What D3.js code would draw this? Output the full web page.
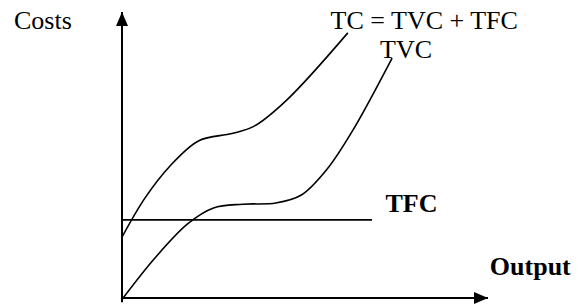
<!DOCTYPE html>
<html>
<head>
<meta charset="utf-8">
<script src="https://cdn.jsdelivr.net/npm/d3@7"></script>
<style>
    body { margin: 0; background: #fff; }
    svg { display: block; }
    text { font-family: "Liberation Serif", "Times New Roman", serif; font-size: 26px; fill: #000; }
    .bold { font-weight: bold; }
    .curve { fill: none; stroke: #000; stroke-width: 1.6; }
    .axis-line { fill: none; stroke: #000; stroke-width: 2; }
</style>
</head>
<body>
<svg id="chart"></svg>
<script>
const WIDTH = 579;
const HEIGHT = 305;

// curve points in output / cost units
const tcOutput  = [0, 0.63, 1.3, 2.1, 3.0, 3.6, 4.5, 6.17];
const tcCost    = [2.13, 3.50, 4.6, 5.5, 5.75, 6.0, 6.92, 9.27];

const tvcOutput = [0, 0.9, 1.8, 2.5, 3.3, 4.2, 4.9, 5.6, 6.3, 7.38];
const tvcCost   = [-0.05, 1.4, 2.6, 3.15, 3.28, 3.32, 3.6, 4.5, 5.85, 8.39];

const tfcCost = 2.73;
const tfcEnd = 6.83;

const xMax = 10;
const yMax = 10;

const labels = [
    { text: "Costs", x: -2.95, y: 9.4, bold: false },
    { text: "TC = TVC + TFC", x: 5.7, y: 9.4, bold: false },
    { text: "TVC", x: 7.05, y: 8.4, bold: false },
    { text: "TFC", x: 7.2, y: 3.0, bold: true },
    { text: "Output", x: 10.05, y: 0.8, bold: true }
];

const x = d3.scaleLinear().domain([0, xMax]).range([122, 488]);
const y = d3.scaleLinear().domain([0, yMax]).range([298, 12]);

const svg = d3.select("#chart")
    .attr("width", WIDTH)
    .attr("height", HEIGHT);

// arrow heads
const defs = svg.append("defs");
defs.append("marker")
    .attr("id", "arrow")
    .attr("markerUnits", "userSpaceOnUse")
    .attr("viewBox", "0 0 14 12")
    .attr("refX", 14)
    .attr("refY", 6)
    .attr("markerWidth", 14)
    .attr("markerHeight", 12)
    .attr("orient", "auto")
    .append("path")
        .attr("d", "M0,0L14,6L0,12Z")
        .attr("fill", "#000");

// axes
svg.append("line")
    .attr("class", "axis-line")
    .attr("x1", x(0)).attr("y1", y(-0.15))
    .attr("x2", x(0)).attr("y2", y(yMax))
    .attr("marker-end", "url(#arrow)");

svg.append("line")
    .attr("class", "axis-line")
    .attr("x1", x(0)).attr("y1", y(0))
    .attr("x2", x(xMax)).attr("y2", y(0))
    .attr("marker-end", "url(#arrow)");

const line = d3.line()
    .x((d) => x(d[0]))
    .y((d) => y(d[1]))
    .curve(d3.curveCatmullRom.alpha(0.5));

svg.append("path")
    .attr("class", "curve")
    .attr("d", line(d3.zip(tcOutput, tcCost)));

svg.append("path")
    .attr("class", "curve")
    .attr("d", line(d3.zip(tvcOutput, tvcCost)));

svg.append("line")
    .attr("class", "curve")
    .attr("x1", x(0)).attr("y1", y(tfcCost))
    .attr("x2", x(tfcEnd)).attr("y2", y(tfcCost));

svg.selectAll(".label")
    .data(labels)
    .enter().append("text")
        .attr("class", (d) => d.bold ? "label bold" : "label")
        .attr("x", (d) => x(d.x))
        .attr("y", (d) => y(d.y))
        .text((d) => d.text);
</script>
</body>
</html>
